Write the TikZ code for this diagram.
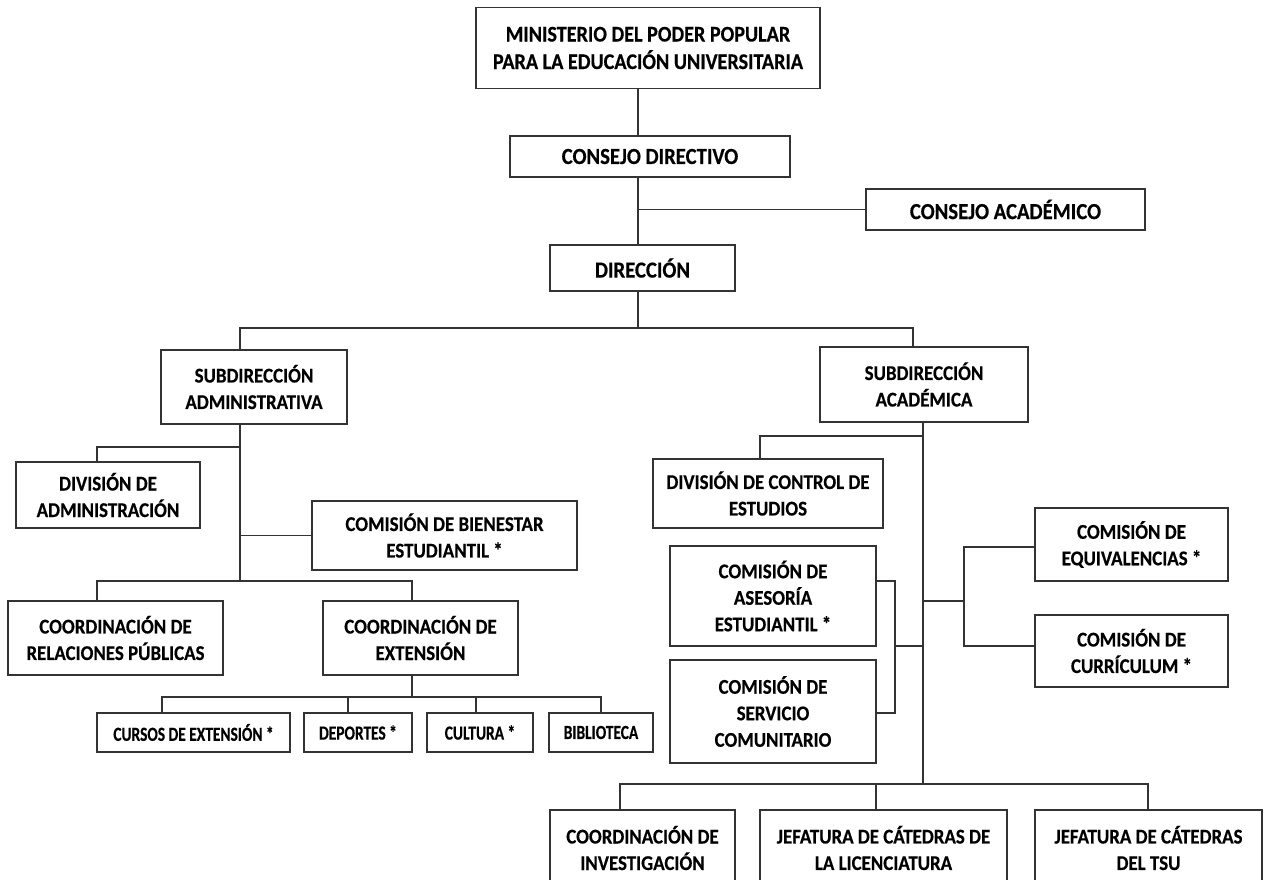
\documentclass[tikz,border=0pt]{standalone}
\usepackage{fontspec}
\setmainfont{Carlito}[FakeStretch=0.9, FakeBold=0.4]
\newfontfamily\narrowfont{Carlito}[FakeStretch=0.77, FakeBold=0.4]
\begin{document}
\begin{tikzpicture}[x=1pt,y=-1pt,
  box/.style={draw=black!80, line width=1.6pt, fill=white, inner sep=0pt, align=center,
    font=\bfseries\fontsize{21}{26.5}\selectfont},
  bigbox/.style={box, font=\bfseries\fontsize{23}{27.5}\selectfont},
  topbox/.style={box, font=\bfseries\fontsize{22.4}{27.5}\selectfont},
  smallbox/.style={box, font=\narrowfont\bfseries\fontsize{20}{22}\selectfont},
  conn/.style={draw=black!80, line width=1.6pt}]
\useasboundingbox (0,0) rectangle (1269,880);
\clip (0,0) rectangle (1269,880);
% top chain
\node[topbox, minimum width=344pt, minimum height=81pt] (min) at (648,48) {MINISTERIO DEL PODER POPULAR\\PARA LA EDUCACIÓN UNIVERSITARIA};
\node[bigbox, minimum width=280pt, minimum height=41pt] (cd) at (650,156.5) {CONSEJO DIRECTIVO};
\node[bigbox, minimum width=279pt, minimum height=41pt] (ca) at (1005.5,209.5) {CONSEJO ACADÉMICO};
\node[bigbox, minimum width=185pt, minimum height=46pt] (dir) at (642.5,268) {DIRECCIÓN};
% subdirections
\node[box, minimum width=186pt, minimum height=74pt] (sadm) at (254,387) {SUBDIRECCIÓN\\ADMINISTRATIVA};
\node[box, minimum width=208pt, minimum height=75pt] (sacad) at (924,384.5) {SUBDIRECCIÓN\\ACADÉMICA};
% admin side
\node[box, minimum width=184pt, minimum height=66pt] (divadm) at (108,495) {DIVISIÓN DE\\ADMINISTRACIÓN};
\node[box, minimum width=265pt, minimum height=69pt] (bien) at (444.5,535.5) {COMISIÓN DE BIENESTAR\\ESTUDIANTIL *};
\node[box, minimum width=215pt, minimum height=74pt] (rp) at (115.5,638) {COORDINACIÓN DE\\RELACIONES PÚBLICAS};
\node[box, minimum width=195pt, minimum height=74pt] (ext) at (420.5,638) {COORDINACIÓN DE\\EXTENSIÓN};
\node[smallbox, minimum width=193pt, minimum height=39pt] (cursos) at (193.5,732.5) {CURSOS DE EXTENSIÓN *};
\node[smallbox, minimum width=108pt, minimum height=39pt] (dep) at (358,732.5) {DEPORTES *};
\node[smallbox, minimum width=106pt, minimum height=39pt] (cult) at (480,732.5) {CULTURA *};
\node[smallbox, minimum width=104pt, minimum height=39pt] (bib) at (601,732.5) {BIBLIOTECA};
% academic side
\node[box, minimum width=230pt, minimum height=69pt] (dce) at (768,493.5) {DIVISIÓN DE CONTROL DE\\ESTUDIOS};
\node[box, minimum width=206pt, minimum height=100pt] (ases) at (773,596) {COMISIÓN DE\\ASESORÍA\\ESTUDIANTIL *};
\node[box, minimum width=206pt, minimum height=103pt] (serv) at (773,711.5) {COMISIÓN DE\\SERVICIO\\COMUNITARIO};
\node[box, minimum width=193pt, minimum height=73pt] (equiv) at (1131.5,544.5) {COMISIÓN DE\\EQUIVALENCIAS *};
\node[box, minimum width=193pt, minimum height=72pt] (curr) at (1131.5,651) {COMISIÓN DE\\CURRÍCULUM *};
\node[box, minimum width=185pt, minimum height=76pt] (inv) at (642.5,848) {COORDINACIÓN DE\\INVESTIGACIÓN};
\node[box, minimum width=247pt, minimum height=76pt] (lic) at (883.5,848) {JEFATURA DE CÁTEDRAS DE\\LA LICENCIATURA};
\node[box, minimum width=227pt, minimum height=76pt] (tsu) at (1148.5,848) {JEFATURA DE CÁTEDRAS\\DEL TSU};
% junction coordinates
\coordinate (tx) at (638,0);
\coordinate (bar1) at (0,328);
\coordinate (ax) at (240,0);
\coordinate (kx) at (913,0);
\coordinate (ay1) at (0,447);
\coordinate (ay2) at (0,581);
\coordinate (lx) at (97,0);
\coordinate (ex) at (412,0);
\coordinate (ey) at (0,697);
\coordinate (vx) at (923,0);
\coordinate (vy1) at (0,436);
\coordinate (dx) at (760,0);
\coordinate (bx) at (895,0);
\coordinate (rx) at (964,0);
\coordinate (ry) at (0,601);
\coordinate (by) at (0,784);
% connectors top
\draw[conn] (min.south -| tx) -- (cd.north -| tx);
\draw[conn] (cd.south -| tx) -- (dir.north -| tx);
\draw[conn] (ca.west) -- (ca.west -| tx);
\draw[conn] (dir.south -| tx) -- (tx |- bar1);
\draw[conn] (sadm.north -| ax) -- (ax |- bar1) -- (kx |- bar1) -- (sacad.north -| kx);
% admin connectors
\draw[conn] (sadm.south -| ax) -- (ax |- ay2);
\draw[conn] (divadm.north -| lx) -- (lx |- ay1) -- (ax |- ay1);
\draw[conn] (bien.west) -- (bien.west -| ax);
\draw[conn] (rp.north -| lx) -- (lx |- ay2) -- (ex |- ay2) -- (ext.north -| ex);
\draw[conn] (ext.south -| ex) -- (ex |- ey);
\draw[conn] (cursos.north -| 162,0) -- (162,697) -- (601,697) -- (bib.north);
\draw[conn] (dep.north -| 348,0) -- (348,697);
\draw[conn] (cult.north -| 476,0) -- (476,697);
% academic connectors
\draw[conn] (sacad.south -| vx) -- (vx |- by);
\draw[conn] (dce.north -| dx) -- (dx |- vy1) -- (vx |- vy1);
\draw[conn] (ases.east |- 0,581) -- (bx |- 0,581) -- (bx |- 0,713) -- (serv.east |- 0,713);
\draw[conn] (bx |- 0,646) -- (vx |- 0,646);
\draw[conn] (vx |- ry) -- (rx |- ry);
\draw[conn] (equiv.west |- 0,547) -- (rx |- 0,547) -- (rx |- 0,646) -- (curr.west |- 0,646);
\draw[conn] (inv.north -| 620,0) -- (620,784) -- (1148,784) -- (tsu.north -| 1148,0);
\draw[conn] (lic.north -| 876,0) -- (876,784);
\end{tikzpicture}
\end{document}
